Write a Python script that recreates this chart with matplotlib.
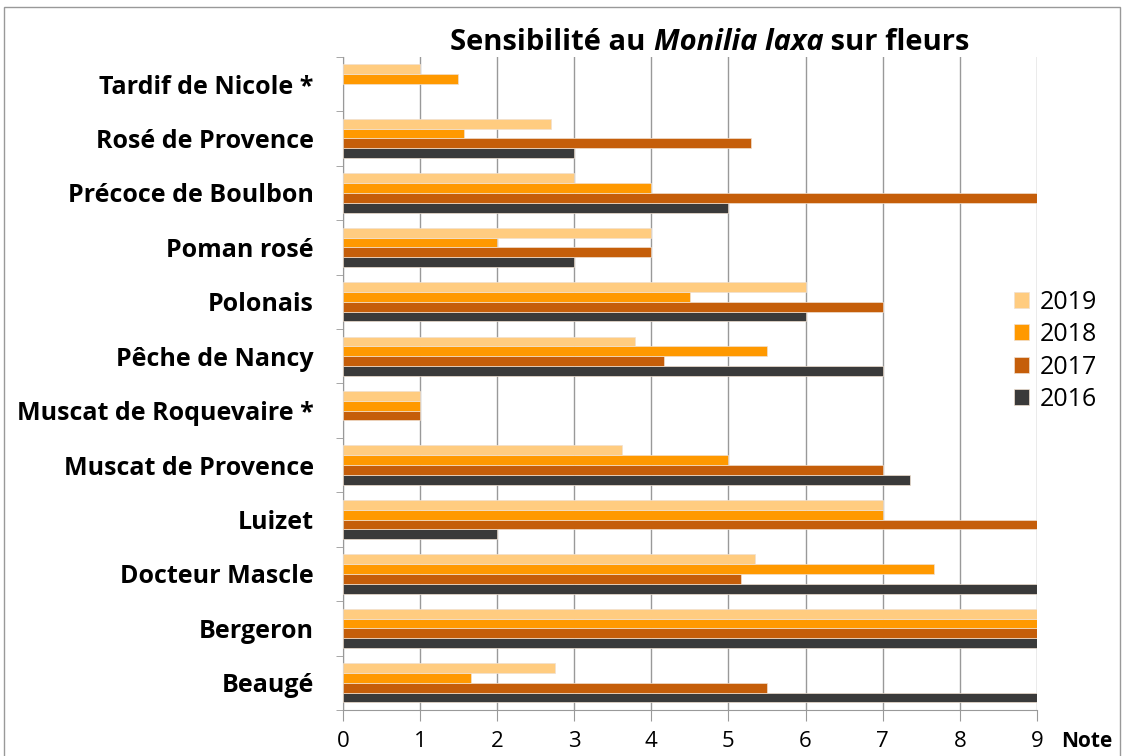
import numpy as np
import matplotlib.pyplot as plt
from matplotlib.patches import Rectangle

plt.rcParams['font.family'] = ['Open Sans', 'DejaVu Sans']

# catégories de bas en haut
varietes = ['Beaugé', 'Bergeron', 'Docteur Mascle', 'Luizet', 'Muscat de Provence',
            'Muscat de Roquevaire *', 'Pêche de Nancy', 'Polonais', 'Poman rosé',
            'Précoce de Boulbon', 'Rosé de Provence', 'Tardif de Nicole *']

n2016 = [9, 9, 9, 2, 7.36, np.nan, 7, 6, 3, 5, 3, np.nan]
n2017 = [5.5, 9, 5.16, 9, 7, 1, 4.17, 7, 4, 9, 5.29, np.nan]
n2018 = [1.66, 9, 7.67, 7, 5, 1, 5.5, 4.5, 2, 4, 1.57, 1.5]
n2019 = [2.75, 9, 5.34, 7, 3.62, 1, 3.79, 6, 4, 3, 2.7, 1]

annees = ['2016', '2017', '2018', '2019']
couleurs = ['#3a3a3a', '#c55e0a', '#ff9900', '#ffcc80']
series = [n2016, n2017, n2018, n2019]

fig = plt.figure(figsize=(11.24, 7.56), dpi=100)
ax = fig.add_axes([0.305, 0.0608, 0.6175, 0.864])

y = np.arange(len(varietes))
h = 0.18
for i, (vals, c, lab) in enumerate(zip(series, couleurs, annees)):
    ax.barh(y + (i - 1.5) * h, vals, height=h, color=c, label=lab,
            edgecolor='#f0e0d0', linewidth=0.5, zorder=3)

ax.set_xlim(0, 9)
ax.set_ylim(-0.5, len(varietes) - 0.5)
ax.set_xticks(range(10))
ax.set_yticks(y)
ax.set_yticklabels(varietes, fontsize=18, fontweight='bold')
ax.set_yticks(np.arange(-0.5, len(varietes), 1), minor=True)
ax.tick_params(axis='y', which='major', length=0, pad=21)
ax.tick_params(axis='y', which='minor', length=5, color='#999999')
ax.tick_params(axis='x', length=8, color='#999999', labelsize=16, pad=7)
ax.grid(axis='x', color='#999999', linewidth=1, zorder=0)
for s in ['top', 'right']:
    ax.spines[s].set_visible(False)
ax.spines['left'].set_color('#999999')
ax.spines['bottom'].set_color('#999999')

ax.text(1.035, -0.048, 'Note', transform=ax.transAxes, fontsize=15,
        fontweight='bold', ha='left', va='center')

# titre en trois morceaux (partie en italique)
fig.canvas.draw()
r = fig.canvas.get_renderer()
morceaux = [('Sensibilité au ', 'normal'), ('Monilia laxa', 'italic'), (' sur fleurs', 'normal')]
txts = [fig.text(0, 0.944, t, fontsize=21, fontweight='bold', fontstyle=st, va='center')
        for t, st in morceaux]
largeurs = [t.get_window_extent(r).width for t in txts]
x0 = 710 - sum(largeurs) / 2
for t, w in zip(txts, largeurs):
    t.set_x(x0 / 1124)
    x0 += w

handles, labels = ax.get_legend_handles_labels()
ax.legend(handles[::-1], labels[::-1], loc='center left', bbox_to_anchor=(0.935, 0.55),
          frameon=False, fontsize=18, handlelength=0.6, handleheight=0.6,
          labelspacing=0.3, handletextpad=0.4)

fig.patches.append(Rectangle((0.004, -0.01), 0.992, 1.001, transform=fig.transFigure,
                             fill=False, edgecolor='#999999', linewidth=1))

fig.savefig('out.png', dpi=100)
